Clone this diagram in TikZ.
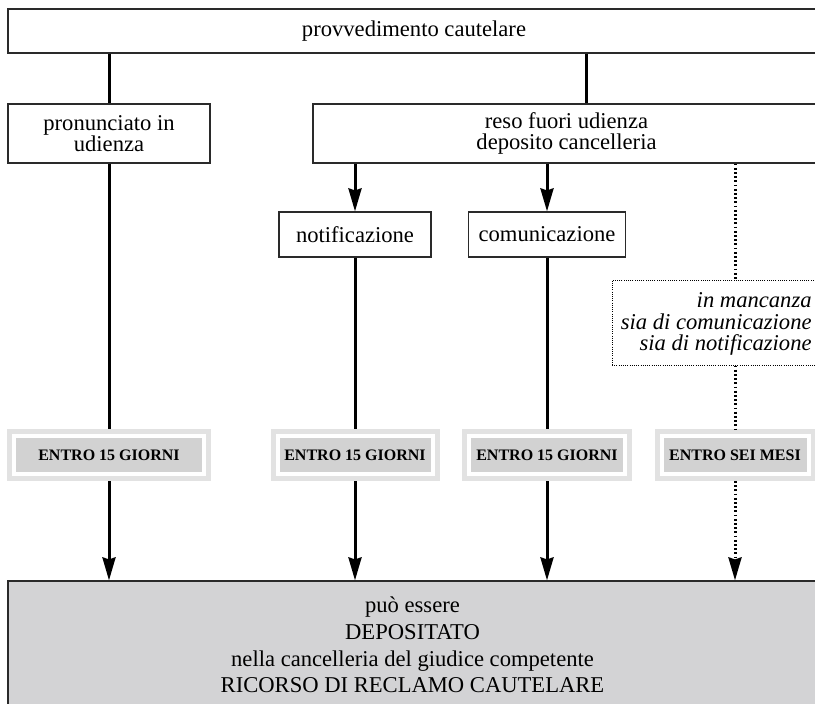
\documentclass[tikz,border=0pt]{standalone}
\usepackage{fontspec}
\setmainfont{Liberation Serif}
\usetikzlibrary{arrows.meta}
\definecolor{boxline}{HTML}{2A2A2A}
\definecolor{bandgray}{HTML}{E2E2E2}
\definecolor{innergray}{HTML}{D2D2D2}
\definecolor{botgray}{HTML}{D3D3D5}
\begin{document}
\begin{tikzpicture}[x=0.5pt,y=-0.5pt,
  box/.style={draw=boxline,line width=0.6pt,fill=white,inner sep=0pt,align=center,font=\fontsize{11.3}{10.5}\selectfont},
  conn/.style={line width=1.5pt},
  arr/.style={line width=1.5pt,-{Stealth[length=11.5pt,width=6.5pt,inset=1pt]}},
  dots/.style={line width=1.5pt,dash pattern=on 0.9pt off 1.2pt},
  dotarr/.style={dots,-{Stealth[length=11.5pt,width=6.5pt,inset=1pt,sep=0pt]}},
  dbox/.style={draw=black,line width=0.5pt,dash pattern=on 0.5pt off 0.6pt,fill=white,inner sep=0pt},
  entro/.style={fill=innergray,inner sep=0pt,minimum height=17pt,outer sep=4.5pt,font=\bfseries\fontsize{8}{9.6}\selectfont},
  frame/.style={draw=bandgray,line width=2.5pt},
  bigbox/.style={draw=boxline,line width=0.6pt,fill=botgray,inner sep=0pt}
]
\fill[white] (0,0) rectangle (815,703);
\useasboundingbox (0,0) rectangle (815,703);

\node[box,minimum width=406pt,minimum height=22pt] (top) at (414,31) {provvedimento cautelare};
\node[box,minimum width=101pt,minimum height=29.5pt] (pron) at (109,133.5) {pronunciato in\\udienza};
\node[box,minimum width=253.5pt,minimum height=29.5pt] (reso) at (566.5,133.5) {reso fuori udienza\\deposito cancelleria};
\node[box,minimum width=76pt,minimum height=22.5pt] (notif) at (355,234.5) {notificazione};
\node[box,minimum width=78.5pt,minimum height=22.5pt] (comun) at (547,234.5) {comunicazione};
\node[dbox,minimum width=104pt,minimum height=42.5pt] (dotbox) at (716,322.5) {};
\node[inner sep=0pt,anchor=east,align=right,font=\itshape\fontsize{11.3}{10.8}\selectfont] (manc) at (812,324) {in mancanza\\sia di comunicazione\\sia di notificazione};

\node[entro,minimum width=93pt] (e1) at (109,455) {ENTRO 15 GIORNI};
\node[entro,minimum width=75.5pt] (e2) at (355,455) {ENTRO 15 GIORNI};
\node[entro,minimum width=76pt] (e3) at (547,455) {ENTRO 15 GIORNI};
\node[entro,minimum width=71.5pt] (e4) at (735,455) {ENTRO SEI MESI};
\foreach \n in {e1,e2,e3,e4}
  \draw[frame] ([shift={(1.25pt,-1.25pt)}]\n.north west) rectangle ([shift={(-1.25pt,1.25pt)}]\n.south east);

\node[bigbox,minimum width=406pt,minimum height=65.5pt] (bot) at (414,646.5) {};
\node[inner sep=0pt,align=center,font=\fontsize{11.3}{13.3}\selectfont] (bottxt) at (412.5,645) {può essere\\DEPOSITATO\\nella cancelleria del giudice competente\\RICORSO DI RECLAMO CAUTELARE};

\coordinate (xr) at (586,0);
\coordinate (xd) at (735,0);

\draw[conn] (top.south -| pron.north) -- (pron.north);
\draw[conn] (top.south -| xr) -- (reso.north -| xr);
\draw[arr] (reso.south -| notif.north) -- (notif.north);
\draw[arr] (reso.south -| comun.north) -- (comun.north);
\draw[dots] (reso.south -| xd) -- (dotbox.north -| xd);

\draw[conn] (pron.south) -- (e1.north);
\draw[conn] (notif.south) -- (e2.north);
\draw[conn] (comun.south) -- (e3.north);
\draw[dots] (dotbox.south -| xd) -- (e4.north -| xd);

\draw[arr] (e1.south) -- (bot.north -| e1.south);
\draw[arr] (e2.south) -- (bot.north -| e2.south);
\draw[arr] (e3.south) -- (bot.north -| e3.south);
\draw[dotarr] (e4.south -| xd) -- (bot.north -| xd);
\end{tikzpicture}
\end{document}
